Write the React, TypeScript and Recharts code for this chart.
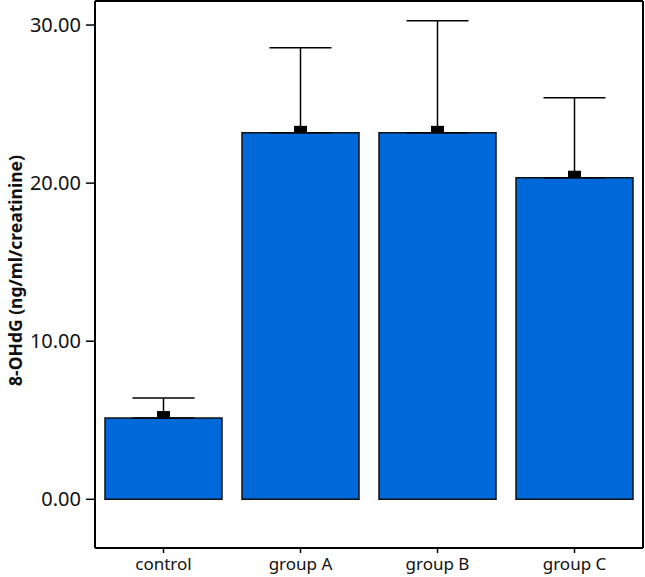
import React from "react";
import {
    ComposedChart,
    Bar,
    ErrorBar,
    LabelList,
    XAxis,
    YAxis,
} from "recharts";

const categories = ["control", "group A", "group B", "group C"];
const means = [5.14, 23.18, 23.18, 20.34];
const upperErrors = [1.27, 5.39, 7.09, 5.06];
const yTicks = [0, 10, 20, 30];

const data = categories.map((name, i) => ({
    name,
    mean: means[i],
    err: [0, upperErrors[i]],
}));

const FONT = "'Noto Sans', 'Open Sans', sans-serif";
const BAR_BLUE = "#0069DA";

// small black square sitting on top of each bar (the mean marker)
const MeanMarker = (props: any) => {
    const { x, y, width } = props;
    if (x == null || y == null) return null;
    const w = 13;
    const h = 7;
    return <rect x={x + width / 2 - w / 2} y={y - h} width={w} height={h} fill="#000" />;
};

const YLabel = (props: any) => {
    const { viewBox } = props;
    const cy = viewBox.y + viewBox.height / 2 - 4;
    const cx = 15;
    return (
        <text
            x={cx}
            y={cy}
            transform={`rotate(-90, ${cx}, ${cy})`}
            textAnchor="middle"
            dominantBaseline="central"
            fontFamily={FONT}
            fontSize={17.5}
            fontWeight={700}
            fill="#111"
        >
            8-OHdG (ng/ml/creatinine)
        </text>
    );
};

export default function App() {
    return (
        <div style={{ position: "absolute", left: 0, top: 0, width: 645, height: 577, background: "#fff" }}>
            <ComposedChart
                width={645}
                height={577}
                data={data}
                margin={{ top: 0, right: 0, bottom: 0, left: 0 }}
            >
                <XAxis
                    dataKey="name"
                    xAxisId="bottom"
                    height={29}
                    stroke="#000"
                    axisLine={{ stroke: "#000", strokeWidth: 2 }}
                    tickLine={{ stroke: "#000", strokeWidth: 1.5 }}
                    tickSize={5}
                    tickMargin={5}
                    tick={{ fill: "#111", fontSize: 17, fontFamily: FONT }}
                />
                <XAxis
                    dataKey="name"
                    xAxisId="top"
                    orientation="top"
                    height={1}
                    tick={false}
                    tickLine={false}
                    axisLine={{ stroke: "#000", strokeWidth: 2 }}
                />
                <YAxis
                    yAxisId="left"
                    width={95}
                    domain={[-3.08, 31.52]}
                    ticks={yTicks}
                    allowDataOverflow
                    tickFormatter={(v: number) => v.toFixed(2)}
                    axisLine={{ stroke: "#000", strokeWidth: 2 }}
                    tickLine={{ stroke: "#000", strokeWidth: 1.5 }}
                    tickSize={9}
                    tickMargin={5}
                    tick={{ fill: "#111", fontSize: 20, fontFamily: FONT }}
                    label={<YLabel />}
                />
                <YAxis
                    yAxisId="right"
                    orientation="right"
                    width={2}
                    domain={[-3.08, 31.52]}
                    tick={false}
                    tickLine={false}
                    axisLine={{ stroke: "#000", strokeWidth: 2 }}
                />
                <Bar
                    dataKey="mean"
                    xAxisId="bottom"
                    yAxisId="left"
                    barSize={117}
                    fill={BAR_BLUE}
                    stroke="#111"
                    strokeWidth={1.5}
                    isAnimationActive={false}
                >
                    <ErrorBar
                        dataKey="err"
                        width={31}
                        stroke="#000"
                        strokeWidth={1.5}
                        direction="y"
                    />
                    <LabelList dataKey="mean" content={<MeanMarker />} />
                </Bar>
            </ComposedChart>
        </div>
    );
}
